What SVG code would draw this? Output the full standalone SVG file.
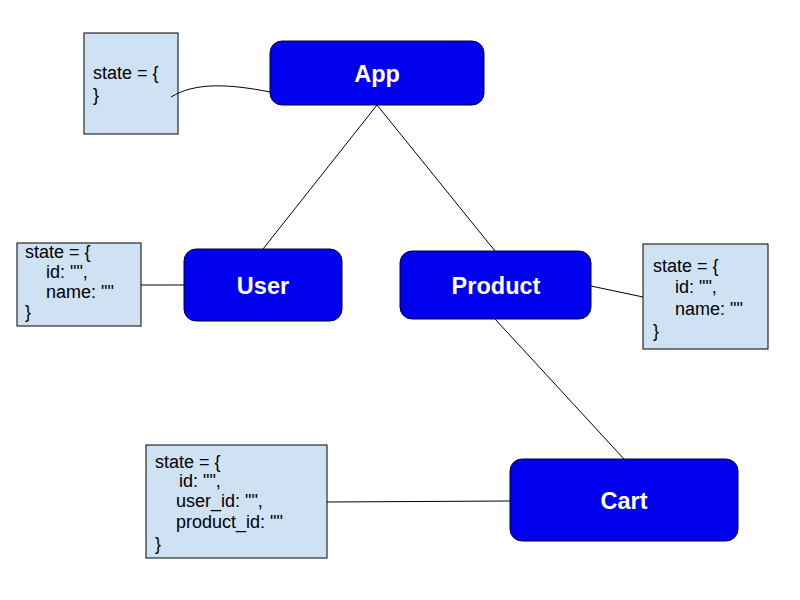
<svg xmlns="http://www.w3.org/2000/svg" width="800" height="600" viewBox="0 0 800 600">
<style>
.node{fill:#0000ee;stroke:#000033;stroke-width:1}
.lbl{font-family:"Liberation Sans",Arial,sans-serif;font-weight:bold;font-size:23.5px;fill:#fff;text-anchor:middle}
.st{fill:#cfe2f3;stroke:#000;stroke-width:1}
.stt{font-family:"Liberation Sans",Arial,sans-serif;font-size:18px;fill:#000}
.conn{fill:none;stroke:#000;stroke-width:1}
</style>
<rect width="800" height="600" fill="#fff"/>
<g id="app-state">
<rect class="st" x="84" y="33" width="94" height="101"/>
<text class="stt" x="93" y="79">state = {</text>
<text class="stt" x="93" y="101">}</text>
</g>
<g id="app">
<rect class="node" x="270" y="41" width="214" height="64" rx="12"/>
<text class="lbl" x="377" y="82">App</text>
</g>
<g id="user-state">
<rect class="st" x="17" y="243" width="124" height="83"/>
<text class="stt" x="25" y="258">state = {</text>
<text class="stt" x="46" y="278">id: "",</text>
<text class="stt" x="46" y="298">name: ""</text>
<text class="stt" x="25" y="318">}</text>
</g>
<g id="user">
<rect class="node" x="184" y="249" width="158" height="72" rx="12"/>
<text class="lbl" x="263" y="294">User</text>
</g>
<g id="product">
<rect class="node" x="400" y="251" width="191" height="68" rx="12"/>
<text class="lbl" x="496" y="294">Product</text>
</g>
<g id="product-state">
<rect class="st" x="643" y="244" width="125" height="105"/>
<text class="stt" x="653" y="272">state = {</text>
<text class="stt" x="675" y="293">id: "",</text>
<text class="stt" x="675" y="315">name: ""</text>
<text class="stt" x="653" y="337">}</text>
</g>
<g id="cart">
<rect class="node" x="510" y="459" width="228" height="82" rx="12"/>
<text class="lbl" x="624" y="509">Cart</text>
</g>
<g id="cart-state">
<rect class="st" x="146" y="445" width="181" height="113"/>
<text class="stt" x="155" y="468">state = {</text>
<text class="stt" x="179" y="487">id: "",</text>
<text class="stt" x="176" y="507">user_id: "",</text>
<text class="stt" x="176" y="528">product_id: ""</text>
<text class="stt" x="155" y="550">}</text>
</g>
<g id="connectors">
<path class="conn" d="M171,97 C195,82 230,84 270,92"/>
<line class="conn" x1="377" y1="105" x2="263" y2="249"/>
<line class="conn" x1="377" y1="105" x2="495" y2="251"/>
<line class="conn" x1="141" y1="285" x2="184" y2="285"/>
<line class="conn" x1="591" y1="286" x2="643" y2="297"/>
<line class="conn" x1="495" y1="319" x2="624" y2="459"/>
<line class="conn" x1="327" y1="502" x2="510" y2="501"/>
</g>
</svg>
